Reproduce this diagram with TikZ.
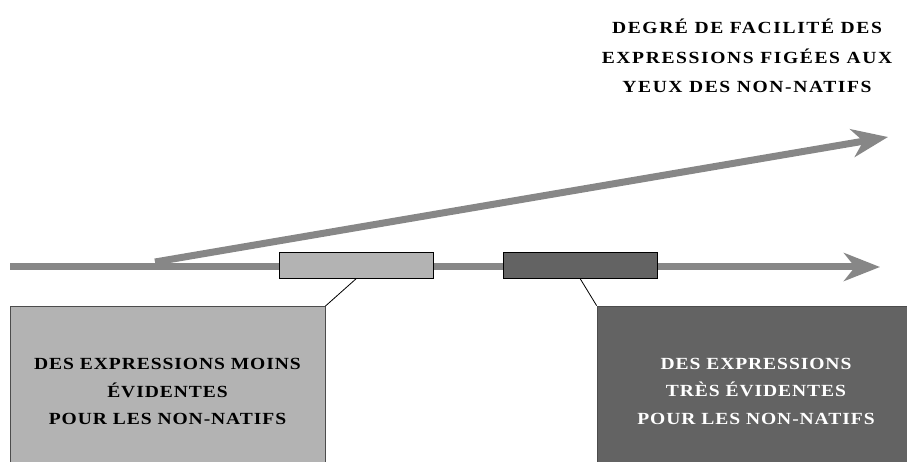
\documentclass[tikz,border=0pt]{standalone}
\usepackage{fontspec}
\setmainfont{Liberation Serif}
\usepackage{xcolor}
\usetikzlibrary{arrows.meta}
\usetikzlibrary{positioning}

\definecolor{axisgray}{HTML}{878787}
\definecolor{palefill}{HTML}{B3B3B3}
\definecolor{deepfill}{HTML}{636363}

\begin{document}
\begin{tikzpicture}[x=1pt,y=-1pt]
        \tikzstyle{axis}=[draw=axisgray,line width=7pt,-{Stealth[length=36pt,width=28pt,inset=11pt]}]
        \tikzstyle{band}=[rectangle,draw=black,line width=0.8pt,minimum width=154pt,minimum height=26pt,inner sep=0pt]
        \tikzstyle{group}=[rectangle,draw=black!70,line width=0.8pt,inner sep=0pt,align=center,font=\bfseries\fontsize{17}{27.5}\selectfont\addfontfeatures{FakeStretch=1.15,LetterSpace=5.5}]
        \tikzstyle{link}=[draw=black,line width=0.8pt]
        \useasboundingbox (0,0) rectangle (907,462);
       \begin{scope}
         \coordinate (a0) at (10,267);
         \coordinate (a1) at (880,267);
         \coordinate (b0) at (155,262);
         \coordinate (b1) at (888,137);
         \path[axis] (a0) -- (a1);
         \path[axis] (b0) -- (b1);
         \node [band,fill=palefill] (less) at (356.5,265) {};
         \node [band,fill=deepfill] (more) at (580,265) {};
         \node [group,fill=palefill,minimum width=315pt,minimum height=170pt] (lessbox) at (167.5,391.5)
           {DES EXPRESSIONS MOINS\\ÉVIDENTES\\POUR LES NON-NATIFS};
         \node [group,fill=deepfill,text=white,minimum width=318pt,minimum height=170pt] (morebox) at (756,391)
           {DES EXPRESSIONS\\TRÈS ÉVIDENTES\\POUR LES NON-NATIFS};
         \path[link] (less.south) -- (lessbox.north east);
         \path[link] (more.south) -- (morebox.north west);
         \node [align=center,font=\bfseries\fontsize{17}{29.5}\selectfont\addfontfeatures{FakeStretch=1.15,LetterSpace=9.5}] (title) at (747,56)
           {DEGRÉ DE FACILITÉ DES\\EXPRESSIONS FIGÉES AUX\\YEUX DES NON-NATIFS};
        \end{scope}
\end{tikzpicture}
\end{document}
